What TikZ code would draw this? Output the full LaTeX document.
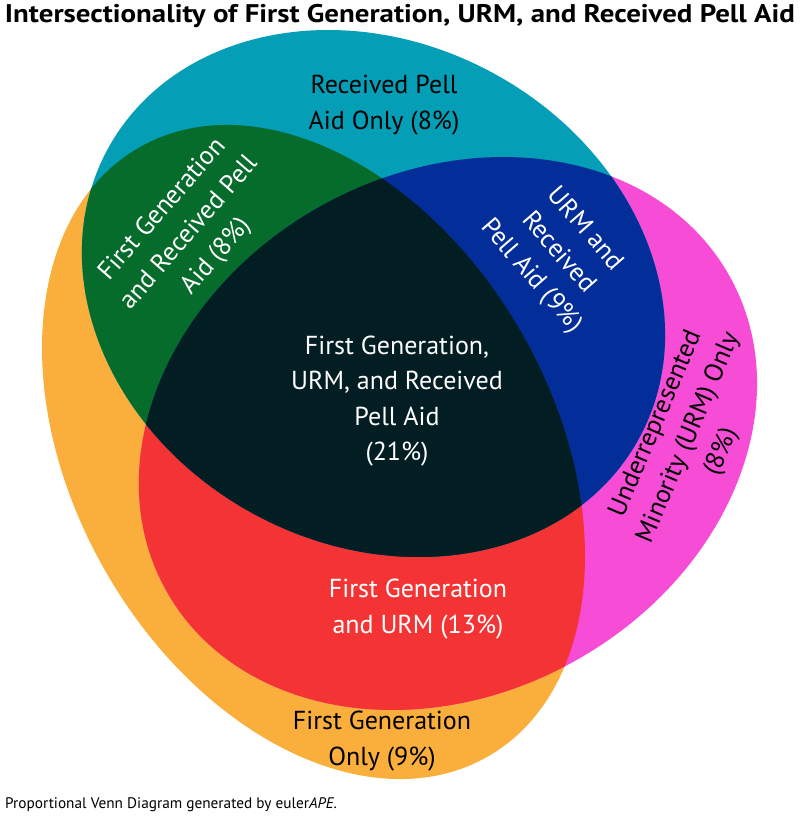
\documentclass[tikz,border=0pt]{standalone}
\usepackage{fontspec,graphicx}
\setmainfont{PT Sans}

\definecolor{fg-only}{RGB}{250,174,59}
\definecolor{urm-only}{RGB}{247,76,214}
\definecolor{pell-only}{RGB}{4,159,183}
\definecolor{fg-urm}{RGB}{244,52,52}
\definecolor{fg-pell}{RGB}{5,108,44}
\definecolor{urm-pell}{RGB}{3,46,154}
\definecolor{fg-urm-pell}{RGB}{3,30,35}

% the three sets, one ellipse each
\newcommand\fgset[1]{\path[#1,rotate around={-60.2:(c-fg)}]
  (c-fg) ellipse [x radius=350.9, y radius=239.8];}
\newcommand\urmset[1]{\path[#1,rotate around={29.1:(c-urm)}]
  (c-urm) ellipse [x radius=322.6, y radius=260.5];}
\newcommand\pellset[1]{\path[#1,rotate around={-28.5:(c-pell)}]
  (c-pell) ellipse [x radius=302.5, y radius=250.8];}

\begin{document}
\begin{tikzpicture}[x=1pt, y=-1pt,
    region/.style={align=center, inner sep=0pt,
      font=\fontsize{26}{35.5}\selectfont}]
    \useasboundingbox (0,0) rectangle (800,816);
    % ellipse centres
    \coordinate (c-fg)   at (313.5,452);
    \coordinate (c-urm)  at (448,433.5);
    \coordinate (c-pell) at (373.5,293.5);
    % one set only
    \fgset{fill=fg-only}
    \urmset{fill=urm-only}
    \pellset{fill=pell-only}
    % two sets
    \begin{scope}
      \fgset{clip}
      \urmset{fill=fg-urm}
    \end{scope}
    \begin{scope}
      \fgset{clip}
      \pellset{fill=fg-pell}
    \end{scope}
    \begin{scope}
      \urmset{clip}
      \pellset{fill=urm-pell}
    \end{scope}
    % all three sets
    \begin{scope}
      \fgset{clip}
      \urmset{clip}
      \pellset{fill=fg-urm-pell}
    \end{scope}
    % region labels
    \node[region] (lbl-pell) at (384,105) {Received Pell\\Aid Only (8\%)};
    \node[region, white, rotate=49] (lbl-fg-pell) at (190,233)
    {First Generation\\and Received Pell\\Aid (8\%)};
    \node[region, white, rotate=-49] (lbl-urm-pell) at (558,253)
    {URM and\\Received\\Pell Aid (9\%)};
    \node[region, white] (lbl-all) at (397,401)
    {First Generation,\\URM, and Received\\Pell Aid\\(21\%)};
    \node[region, white] (lbl-fg-urm) at (418,609)
    {First Generation\\and URM (13\%)};
    \node[region] (lbl-fg) at (382,741) {First Generation\\Only (9\%)};
    \node[region, rotate=67] (lbl-urm) at (689,438)
    {Underrepresented\\Minority (URM) Only\\(8\%)};
    % title and source line
    \node[anchor=base, inner sep=0pt] (title) at (400,23)
    {\resizebox{790pt}{\height}{\fontsize{25.5}{30}\selectfont\bfseries
        Intersectionality of First Generation, URM, and Received Pell Aid}};
    \node[anchor=base west, inner sep=0pt] (source) at (5,808)
    {\fontsize{15.3}{18}\selectfont Proportional Venn Diagram generated by
      euler\textit{APE}.};
\end{tikzpicture}
\end{document}
